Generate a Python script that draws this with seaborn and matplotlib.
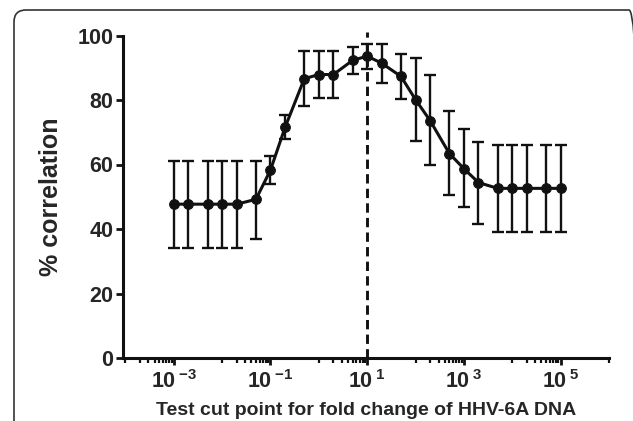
import numpy as np
import pandas as pd
import seaborn as sns
import matplotlib.pyplot as plt
from matplotlib.patches import FancyBboxPatch
from matplotlib.ticker import FixedLocator, NullFormatter

# test cut points (fold change) and % correlation with its interval
cut_points = [0.001, 0.002, 0.005, 0.01, 0.02, 0.05, 0.1, 0.2, 0.5, 1, 2, 5,
              10, 20, 50, 100, 200, 500, 1000, 2000, 5000, 1e4, 2e4, 5e4, 1e5]
corr = [47.7, 47.7, 47.7, 47.7, 47.7, 49.2, 58.3, 71.5, 86.6, 87.9, 87.9, 92.3,
        93.6, 91.4, 87.3, 80.1, 73.6, 63.4, 58.7, 54.4, 52.6, 52.6, 52.6, 52.6, 52.6]
ci_low = [34.1, 34.1, 34.1, 34.1, 34.1, 37.0, 54.1, 67.8, 78.1, 80.5, 80.5, 88.2,
          89.5, 85.4, 80.4, 67.4, 59.8, 50.5, 46.8, 41.4, 39.1, 39.1, 39.1, 39.1, 39.1]
ci_high = [61.2, 61.2, 61.2, 61.2, 61.2, 61.2, 62.5, 75.5, 95.1, 95.1, 95.1, 96.3,
           97.5, 97.3, 94.2, 93.0, 87.9, 76.5, 71.0, 67.1, 66.1, 66.1, 66.1, 66.1, 66.1]
best_cut = 10
x_exponents = [-3, -1, 1, 3, 5]
y_ticks = [0, 20, 40, 60, 80, 100]

df = pd.DataFrame({'cut': cut_points, 'corr': corr, 'low': ci_low, 'high': ci_high})

sns.set_style("ticks")
plt.rcParams['font.family'] = ['Liberation Sans', 'DejaVu Sans']
plt.rcParams['font.weight'] = 'bold'
plt.rcParams['axes.labelweight'] = 'bold'

fig = plt.figure(figsize=(6.33, 4.21), dpi=100)
ax = fig.add_axes([123 / 633, 63 / 421, (609 - 123) / 633, (358 - 35.5) / 421])
ax.set_xscale('log')

# error bars
ax.errorbar(df['cut'], df['corr'],
            yerr=[df['corr'] - df['low'], df['high'] - df['corr']],
            fmt='none', ecolor='#111111', elinewidth=1.7, capsize=4.5, capthick=1.7, zorder=2)
sns.lineplot(data=df, x='cut', y='corr', ax=ax, color='#111111', linewidth=2.2,
             marker='o', markersize=7, markeredgecolor='#111111', zorder=3)

# best cut point
ax.plot([best_cut, best_cut], [0, 101], color='#111111', linewidth=2.1,
        linestyle='--', dashes=(3.2, 1.8), zorder=1, clip_on=False)

ax.set_xlim(10 ** -4.05, 10 ** 6)
ax.set_ylim(0, 100)

sns.despine(ax=ax)
for s in ['left', 'bottom']:
    ax.spines[s].set_linewidth(2.2)
    ax.spines[s].set_color('#111111')

ax.set_yticks(y_ticks)
ax.set_yticklabels([str(v) for v in y_ticks], fontsize=15.5, fontweight='bold')

ax.xaxis.set_major_locator(FixedLocator([10.0 ** e for e in x_exponents]))
ax.set_xticklabels([r'$\mathregular{10\,^{%d}}$' % e for e in x_exponents],
                   fontsize=15.5, fontweight='bold')
minor = [k * 10.0 ** d for d in [-4, -2, 0, 2, 4, 6] for k in range(1, 10)]
ax.xaxis.set_minor_locator(FixedLocator(minor))
ax.xaxis.set_minor_formatter(NullFormatter())

ax.tick_params(axis='y', length=5, width=2, color='#111111', pad=2)
ax.tick_params(axis='x', which='major', length=5, width=2, color='#111111', pad=4)
ax.tick_params(axis='x', which='minor', length=3.5, width=1.6, color='#111111')

ax.set_xlabel('Test cut point for fold change of HHV-6A DNA', fontsize=14,
              fontweight='bold', labelpad=6)
ax.set_ylabel('% correlation', fontsize=18, fontweight='bold', labelpad=10)

# rounded panel frame, cut off at the right and bottom edges
frame = FancyBboxPatch((0.14, -0.3), 6.27, 4.41, boxstyle='round,pad=0,rounding_size=0.12',
                       transform=fig.dpi_scale_trans, fill=False, edgecolor='#333333',
                       linewidth=1.2, clip_on=False)
fig.add_artist(frame)

fig.savefig('out.png', dpi=100)
